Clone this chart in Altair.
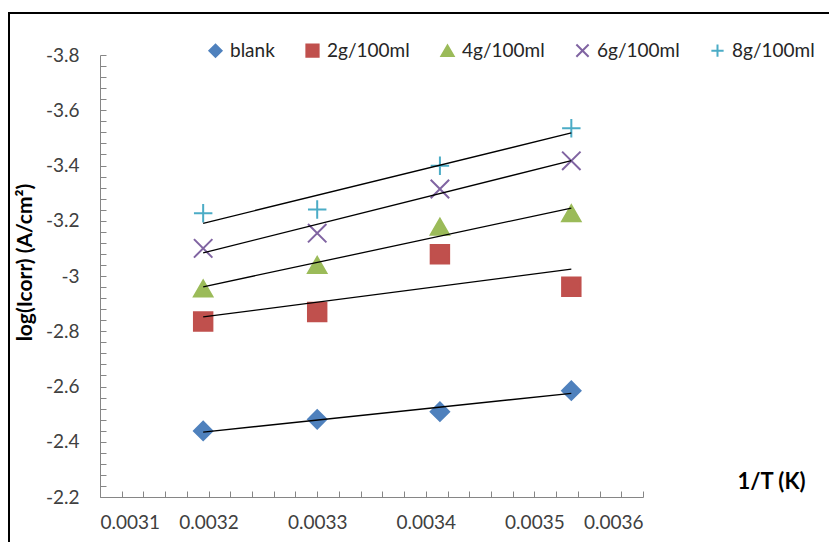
import altair as alt
import pandas as pd

# ---- data ----
inv_T = [0.003195, 0.0033, 0.003413, 0.003534]
series_names = ["blank", "2g/100ml", "4g/100ml", "6g/100ml", "8g/100ml"]
blank = [-2.439, -2.481, -2.509, -2.585]
g2 = [-2.835, -2.870, -3.079, -2.961]
g4 = [-2.955, -3.040, -3.178, -3.227]
g6 = [-3.100, -3.155, -3.315, -3.417]
g8 = [-3.227, -3.241, -3.399, -3.535]

y_major = [-3.8, -3.6, -3.4, -3.2, -3.0, -2.8, -2.6, -2.4, -2.2]
x_major = [0.0031, 0.0032, 0.0033, 0.0034, 0.0035, 0.0036]
y_minor = [round(-3.8 + 0.04 * i, 2) for i in range(41)]
x_minor = [round(0.0031 + 0.00002 * i, 5) for i in range(26)]

colors = ["#4F81BD", "#C0504D", "#9BBB59", "#8064A2", "#4BACC6"]
fills = ["#4F81BD", "#C0504D", "#9BBB59", "transparent", "transparent"]
shapes = ["diamond", "square", "triangle-up",
          "M-1,-1L1,1M-1,1L1,-1", "M-1,0L1,0M0,-1L0,1"]

rows = []
for name, vals in zip(series_names, [blank, g2, g4, g6, g8]):
    for xv, yv in zip(inv_T, vals):
        rows.append({"series": name, "x": xv, "y": yv})
df = pd.DataFrame(rows)

FONT = "Lato"
GRAY = "#868686"
W, H = 543, 442

xscale = alt.Scale(domain=[0.0031, 0.0036], nice=False, zero=False)
yscale = alt.Scale(domain=[-3.8, -2.2], nice=False, zero=False, reverse=True)

legend = alt.Legend(title=None, orient="none", direction="horizontal",
                    legendX=106, legendY=-14, padding=0,
                    labelFont=FONT, labelFontSize=19, labelColor="#262626",
                    symbolSize=150, symbolStrokeWidth=2, labelOffset=5,
                    columnPadding=27)

base = alt.Chart(df)

points = base.mark_point(filled=False, size=340, strokeWidth=2, opacity=1).encode(
    x=alt.X("x:Q", scale=xscale,
            axis=alt.Axis(values=x_major, format=".4f", grid=False, ticks=False,
                          domainColor=GRAY, labelFont=FONT, labelFontSize=19,
                          labelColor="#404040", labelPadding=16,
                          title="1/T (K)", titleFont=FONT, titleFontSize=22,
                          titleFontWeight="bold", titleColor="#000000",
                          titleX=671, titleY=-16, titleAlign="center",
                          titleBaseline="middle")),
    y=alt.Y("y:Q", scale=yscale,
            axis=alt.Axis(values=y_major, labelExpr="toString(datum.value)",
                          grid=False, ticks=False, domainColor=GRAY,
                          labelFont=FONT, labelFontSize=19, labelColor="#404040",
                          labelPadding=21,
                          title="log(Icorr) (A/cm²)", titleFont=FONT,
                          titleFontSize=21, titleFontWeight="bold",
                          titleColor="#000000", titleAngle=270,
                          titleX=-75, titleY=207, titleAlign="center",
                          titleBaseline="middle")),
    color=alt.Color("series:N", scale=alt.Scale(domain=series_names, range=colors),
                    legend=legend),
    fill=alt.Fill("series:N", scale=alt.Scale(domain=series_names, range=fills),
                  legend=legend),
    shape=alt.Shape("series:N", scale=alt.Scale(domain=series_names, range=shapes),
                    legend=legend),
)

lines = base.transform_regression(
    "x", "y", groupby=["series"]
).mark_line(color="#000000", strokeWidth=1.3).encode(
    x=alt.X("x:Q", scale=xscale,
            axis=alt.Axis(orient="top", offset=-H, values=x_minor, labels=False,
                          domain=False, grid=False, ticks=True, tickSize=6,
                          tickColor=GRAY, title="")),
    y=alt.Y("y:Q", scale=yscale,
            axis=alt.Axis(orient="right", offset=-W, values=y_minor, labels=False,
                          domain=False, grid=False, ticks=True, tickSize=6,
                          tickColor=GRAY, title="")),
    detail="series:N",
)

frame = alt.Chart(pd.DataFrame({"a": [0]})).mark_rect(
    filled=False, stroke="#000000", strokeWidth=2
).encode(
    x=alt.value(-91), y=alt.value(-42), x2=alt.value(900), y2=alt.value(700)
)

chart = alt.layer(points, lines, frame).resolve_axis(
    x="independent", y="independent"
).properties(
    width=W, height=H,
    autosize=alt.AutoSizeParams(type="none"),
    padding={"left": 92, "top": 47, "right": 186, "bottom": 45},
    background="#ffffff",
).configure_view(stroke="transparent")

chart.save("out.html", embed_options={"renderer": "svg", "actions": False})
